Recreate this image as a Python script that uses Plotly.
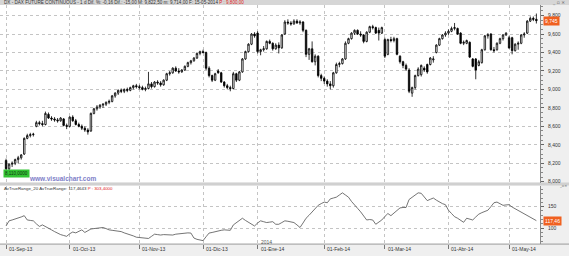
import pandas as pd
import plotly.graph_objects as go

W, H = 569, 256

# ---------------- data ----------------
holidays = ["2013-12-24", "2013-12-25", "2013-12-26", "2013-12-31",
            "2014-01-01", "2014-04-18", "2014-04-21", "2014-05-01"]
sessions = [d for d in pd.bdate_range("2013-09-02", "2014-05-15")
            if d.strftime("%Y-%m-%d") not in holidays]

month_labels = ["01-Sep-13", "01-Oct-13", "01-Nov-13", "01-Dic-13", "01-Ene-14",
                "01-Feb-14", "01-Mar-14", "01-Abr-14", "01-May-14"]

opens = [
    8230, 8140, 8190, 8200, 8240, 8260, 8300, 8470, 8500, 8510, 8600, 8640, 8630, 8620, 8730, 8690, 8680, 8670, 8660, 8680, 8610,
    8600, 8700, 8660, 8620, 8600, 8580, 8560, 8550, 8740, 8790, 8810, 8830, 8840, 8860, 8870, 8930, 8960, 8990, 8980, 9000, 8990, 9020, 9040,
    9030, 9020, 9000, 9010, 9060, 9030, 9080, 9070, 9050, 9100, 9170, 9180, 9230, 9200, 9190, 9210, 9250, 9290, 9310, 9340, 9390,
    9410, 9400, 9230, 9150, 9100, 9200, 9180, 9080, 9040, 9020, 9010, 9170, 9100, 9190, 9330, 9410, 9490, 9600,
    9610, 9410, 9430, 9440, 9520, 9500, 9440, 9480, 9450, 9600, 9730, 9720, 9710, 9740, 9720, 9730, 9640, 9380, 9440, 9300, 9360, 9150,
    9120, 9090, 9060, 9040, 9180, 9270, 9280, 9330, 9500, 9550, 9610, 9640, 9600, 9590, 9520, 9620, 9680, 9670, 9640, 9610,
    9540, 9380, 9540, 9530, 9550, 9360, 9300, 9260, 9210, 8960, 9020, 9150, 9160, 9230, 9270, 9270, 9320, 9400, 9480, 9550, 9590,
    9610, 9630, 9660, 9660, 9610, 9500, 9500, 9510, 9330, 9330, 9260, 9290, 9430, 9580, 9600, 9430, 9430, 9500, 9550, 9590,
    9560, 9560, 9420, 9490, 9500, 9590, 9610, 9740, 9770, 9760]
highs = [
    8250, 8200, 8220, 8250, 8280, 8300, 8480, 8520, 8530, 8530, 8660, 8660, 8660, 8760, 8750, 8710, 8700, 8690, 8700, 8690, 8630,
    8710, 8720, 8680, 8640, 8620, 8600, 8580, 8750, 8800, 8830, 8840, 8850, 8870, 8890, 8940, 8970, 9000, 9010, 9010, 9020, 9030, 9050, 9060,
    9050, 9040, 9030, 9190, 9080, 9090, 9100, 9090, 9110, 9180, 9200, 9240, 9250, 9230, 9220, 9260, 9300, 9320, 9350, 9400, 9420,
    9430, 9410, 9250, 9160, 9180, 9220, 9190, 9090, 9060, 9040, 9190, 9180, 9200, 9340, 9420, 9500, 9610, 9620,
    9630, 9440, 9470, 9530, 9540, 9510, 9500, 9510, 9600, 9750, 9760, 9740, 9760, 9760, 9750, 9740, 9650, 9450, 9520, 9380, 9370, 9170,
    9140, 9110, 9090, 9190, 9290, 9300, 9340, 9520, 9560, 9620, 9650, 9650, 9630, 9600, 9630, 9690, 9700, 9680, 9670, 9680,
    9560, 9550, 9570, 9570, 9560, 9370, 9310, 9280, 9230, 9030, 9160, 9240, 9270, 9250, 9280, 9350, 9360, 9490, 9560, 9600, 9630,
    9650, 9680, 9720, 9670, 9620, 9530, 9540, 9520, 9340, 9340, 9320, 9440, 9590, 9610, 9610, 9460, 9510, 9560, 9600, 9620,
    9580, 9570, 9500, 9520, 9600, 9620, 9750, 9790, 9790, 9822]
lows = [
    8110, 8120, 8160, 8180, 8200, 8240, 8290, 8460, 8480, 8490, 8590, 8610, 8600, 8610, 8680, 8660, 8650, 8640, 8650, 8600, 8570,
    8590, 8650, 8610, 8590, 8560, 8540, 8510, 8540, 8730, 8770, 8790, 8800, 8820, 8840, 8860, 8910, 8940, 8960, 8960, 8970, 8980, 9000, 9010,
    9000, 8990, 8980, 9000, 9010, 9020, 9050, 9030, 9040, 9090, 9150, 9170, 9190, 9170, 9180, 9200, 9240, 9270, 9300, 9330, 9370,
    9390, 9210, 9130, 9080, 9090, 9170, 9070, 9020, 9000, 8980, 9000, 9080, 9090, 9180, 9320, 9400, 9480, 9560,
    9390, 9370, 9410, 9430, 9490, 9420, 9430, 9390, 9440, 9590, 9700, 9690, 9700, 9710, 9700, 9620, 9350, 9320, 9290, 9260, 9130, 9090,
    9060, 9030, 9000, 9020, 9170, 9240, 9270, 9320, 9490, 9540, 9590, 9590, 9570, 9500, 9510, 9610, 9650, 9600, 9530, 9600,
    9340, 9370, 9510, 9510, 9370, 9280, 9230, 9200, 8960, 8920, 9000, 9140, 9140, 9190, 9170, 9260, 9290, 9390, 9470, 9540, 9570,
    9590, 9620, 9640, 9590, 9490, 9480, 9490, 9340, 9240, 9110, 9250, 9280, 9420, 9550, 9420, 9400, 9420, 9490, 9530, 9580,
    9440, 9380, 9410, 9430, 9490, 9560, 9600, 9730, 9740, 9714]
closes = [
    8140, 8190, 8200, 8240, 8260, 8290, 8470, 8500, 8510, 8515, 8640, 8630, 8620, 8740, 8690, 8680, 8670, 8660, 8690, 8610, 8600,
    8700, 8660, 8620, 8600, 8580, 8560, 8540, 8740, 8790, 8810, 8830, 8840, 8860, 8870, 8930, 8960, 8990, 8980, 9000, 8990, 9020, 9040, 9030,
    9020, 9000, 9010, 9060, 9030, 9080, 9070, 9050, 9100, 9170, 9180, 9230, 9200, 9190, 9210, 9250, 9290, 9310, 9340, 9390, 9410,
    9400, 9230, 9150, 9100, 9170, 9180, 9080, 9040, 9020, 9010, 9170, 9100, 9190, 9330, 9410, 9490, 9600, 9580,
    9410, 9430, 9440, 9520, 9500, 9440, 9480, 9450, 9590, 9730, 9720, 9710, 9740, 9720, 9730, 9640, 9380, 9440, 9300, 9360, 9150, 9120,
    9090, 9060, 9040, 9180, 9270, 9280, 9330, 9500, 9550, 9610, 9640, 9600, 9590, 9520, 9620, 9680, 9670, 9610, 9610, 9670,
    9360, 9540, 9530, 9550, 9380, 9300, 9260, 9220, 8980, 9020, 9150, 9220, 9260, 9210, 9190, 9340, 9330, 9480, 9550, 9590, 9610,
    9630, 9660, 9670, 9600, 9500, 9510, 9530, 9350, 9250, 9210, 9300, 9430, 9580, 9590, 9430, 9420, 9500, 9550, 9590, 9610,
    9450, 9420, 9490, 9500, 9590, 9600, 9740, 9770, 9760, 9745]

atr = [
    105, 117, 119, 121, 123, 126, 129, 119, 118, 117, 110, 104, 107.5, 103, 100, 96, 92, 88, 85, 83,
    81, 87, 91, 89, 93, 96, 90, 94, 98, 99, 100, 101, 101.5, 99, 96, 95, 94, 93, 92, 89,
    87, 85, 82, 79, 78, 77, 76, 76, 81, 86, 85, 84, 85, 85, 84, 84, 86, 87, 88.6, 89,
    89, 88.6, 77, 74, 72, 71, 80, 88.6, 90, 92, 94, 95, 96, 95, 95, 107.5, 113, 118, 123, 118,
    113, 109, 105, 112, 117, 115, 113, 114, 115, 109, 109, 113, 117, 116, 114, 113, 107.5, 101.5, 112, 123,
    130, 138, 146, 153, 157, 160.6, 159, 168, 170, 172, 177, 182, 177, 172, 162, 153, 146, 138, 128, 119,
    120, 119, 109, 114, 119, 127, 134, 129, 135, 141, 147, 148, 148, 166.6, 172, 177, 182, 181, 172, 164,
    167, 170, 165, 160.6, 157, 154.5, 141.6, 134, 126.6, 123, 119, 113.6, 123, 121, 119, 126, 132.5, 136, 139, 141.6,
    150, 159, 160.6, 157, 153, 154, 154.5, 149, 145, 141, 138, 133, 128, 124, 120, 117.46]

price_ticks = [8000, 8200, 8400, 8600, 8800, 9000, 9200, 9400, 9600, 9800]
atr_ticks = [100, 150]

title_main = "DX - DAX FUTURE CONTINUOUS - 1 d Dif. %: -0,16 Dif.: -15,00 M: 9,822,50 m: 9,714,00 F: 15-05-2014 "
title_main_red = "P : 9,800,00"
title_ind = "AvTrueRange_20 AvTrueRange: 117,4643 "
title_ind_red = "P : 303,4000"
last_price_label = "9,745"
last_atr_label = "117,46"
low_label = "8,110,0000"

# ---------------- helpers ----------------
idx = list(range(len(sessions)))
month_pos = []
seen = set()
for i, d in enumerate(sessions):
    key = (d.year, d.month)
    if key not in seen:
        seen.add(key)
        month_pos.append(i)


def px(x):
    return x / W


def py(y):
    return 1 - y / H


PLOT_R = 540 / W
FONT = "Liberation Sans"
GRID = "#c4c4c4"

fig = go.Figure()
fig.add_trace(go.Candlestick(
    x=idx, open=opens, high=highs, low=lows, close=closes,
    increasing=dict(line=dict(color="#000000", width=0.8), fillcolor="#ffffff"),
    decreasing=dict(line=dict(color="#000000", width=0.8), fillcolor="#000000"),
    whiskerwidth=0, showlegend=False, hoverinfo="skip", xaxis="x", yaxis="y"))
fig.add_trace(go.Scatter(
    x=idx, y=atr, mode="lines", line=dict(color="#505050", width=0.8),
    showlegend=False, hoverinfo="skip", xaxis="x2", yaxis="y2"))

xcommon = dict(domain=[0, PLOT_R], range=[-2, 176.2], tickvals=month_pos,
               showticklabels=False, showgrid=True, gridcolor=GRID, griddash="dot",
               gridwidth=1, zeroline=False, showline=False, fixedrange=True)

fig.update_layout(
    width=W, height=H, margin=dict(l=0, r=0, t=0, b=0),
    paper_bgcolor="#efefef", plot_bgcolor="#ffffff",
    font=dict(family=FONT, size=5, color="#333333"),
    xaxis=dict(**xcommon, anchor="y", ticks="", rangeslider=dict(visible=False)),
    xaxis2=dict(**xcommon, anchor="y2", matches="x", ticks="outside", ticklen=4,
                tickcolor="#777777", tickwidth=1),
    yaxis=dict(domain=[py(184), py(5)], range=[7991, 9915], side="right", anchor="x",
               tickvals=price_ticks, tickformat=",d", ticks="outside", ticklen=3,
               tickcolor="#666666", showline=True, linecolor="#888888", linewidth=1,
               showgrid=True, gridcolor=GRID, griddash="dot", zeroline=False,
               tickfont=dict(size=5, color="#333333"), ticklabelstandoff=3,
               minor=dict(dtick=50, ticks="outside", ticklen=2, tickcolor="#888888", showgrid=False),
               fixedrange=True),
    yaxis2=dict(domain=[py(246), py(187)], range=[63, 199], side="right", anchor="x2",
                tickvals=atr_ticks, ticks="outside", ticklen=3, tickcolor="#666666",
                showline=True, linecolor="#888888", linewidth=1,
                showgrid=True, gridcolor=GRID, griddash="dot", zeroline=False,
                tickfont=dict(size=5, color="#333333"), ticklabelstandoff=3,
                minor=dict(dtick=10, ticks="outside", ticklen=2, tickcolor="#888888", showgrid=False),
                fixedrange=True),
)

shapes = [
    dict(type="rect", xref="paper", yref="paper", x0=0, x1=1, y0=py(5), y1=1,
         fillcolor="#d6d6d6", line=dict(width=0), layer="below"),
    dict(type="rect", xref="paper", yref="paper", x0=0, x1=1, y0=py(187), y1=py(184),
         fillcolor="#d0d0d0", line=dict(width=0), layer="below"),
    dict(type="line", xref="paper", yref="paper", x0=0, x1=1, y0=py(246), y1=py(246),
         line=dict(color="#999999", width=1)),
]
fig.update_layout(shapes=shapes)

ann = []
ann.append(dict(xref="paper", yref="paper", x=px(2), y=py(2.6), xanchor="left", yanchor="middle",
                text=title_main + '<span style="color:#e02020">' + title_main_red + "</span>",
                showarrow=False, font=dict(size=4.6, color="#333333")))
ann.append(dict(xref="paper", yref="paper", x=px(2), y=py(189.5), xanchor="left", yanchor="middle",
                text=title_ind + '<span style="color:#e02020">' + title_ind_red + "</span>",
                showarrow=False, font=dict(size=4.4, color="#333333")))
ann.append(dict(xref="paper", yref="paper", x=px(567), y=py(2.6), xanchor="right", yanchor="middle",
                text="_ ▫ ×", showarrow=False, font=dict(size=4.5, color="#555555", family="DejaVu Sans")))
ann.append(dict(xref="paper", yref="paper", x=px(568), y=py(187.2), xanchor="right", yanchor="middle",
                text="_▫×", showarrow=False, borderpad=0,
                font=dict(size=3.6, color="#555555", family="DejaVu Sans")))
ann.append(dict(xref="paper", yref="y", x=px(543), y=closes[-1], xanchor="left", yanchor="middle",
                text=last_price_label, showarrow=False, bgcolor="#f06020", borderpad=1,
                font=dict(size=5, color="#ffffff")))
ann.append(dict(xref="paper", yref="y2", x=px(543), y=atr[-1], xanchor="left", yanchor="middle",
                text=last_atr_label, showarrow=False, bgcolor="#f06020", borderpad=1,
                font=dict(size=5, color="#ffffff")))
ann.append(dict(xref="paper", yref="paper", x=px(3), y=py(175), xanchor="left", yanchor="middle",
                text=low_label, showarrow=False, bgcolor="#33c433", borderpad=1,
                font=dict(size=4.5, color="#103010")))
ann.append(dict(xref="paper", yref="paper", x=px(27), y=py(180), xanchor="left", yanchor="middle",
                text="<b>www.visualchart.com</b>", showarrow=False,
                font=dict(size=6.5, color="#8080c8")))
ann.append(dict(xref="x2", yref="paper", x=month_pos[4], y=py(243.5), xanchor="left", yanchor="middle",
                text="2014", showarrow=False, xshift=1, font=dict(size=5, color="#555555")))
for pos, lab in zip(month_pos, month_labels):
    ann.append(dict(xref="x2", yref="paper", x=pos, y=py(251), xanchor="left", yanchor="middle",
                    text=lab, showarrow=False, xshift=1, font=dict(size=5, color="#333333")))
fig.update_layout(annotations=ann)

fig.write_html("out.html")
